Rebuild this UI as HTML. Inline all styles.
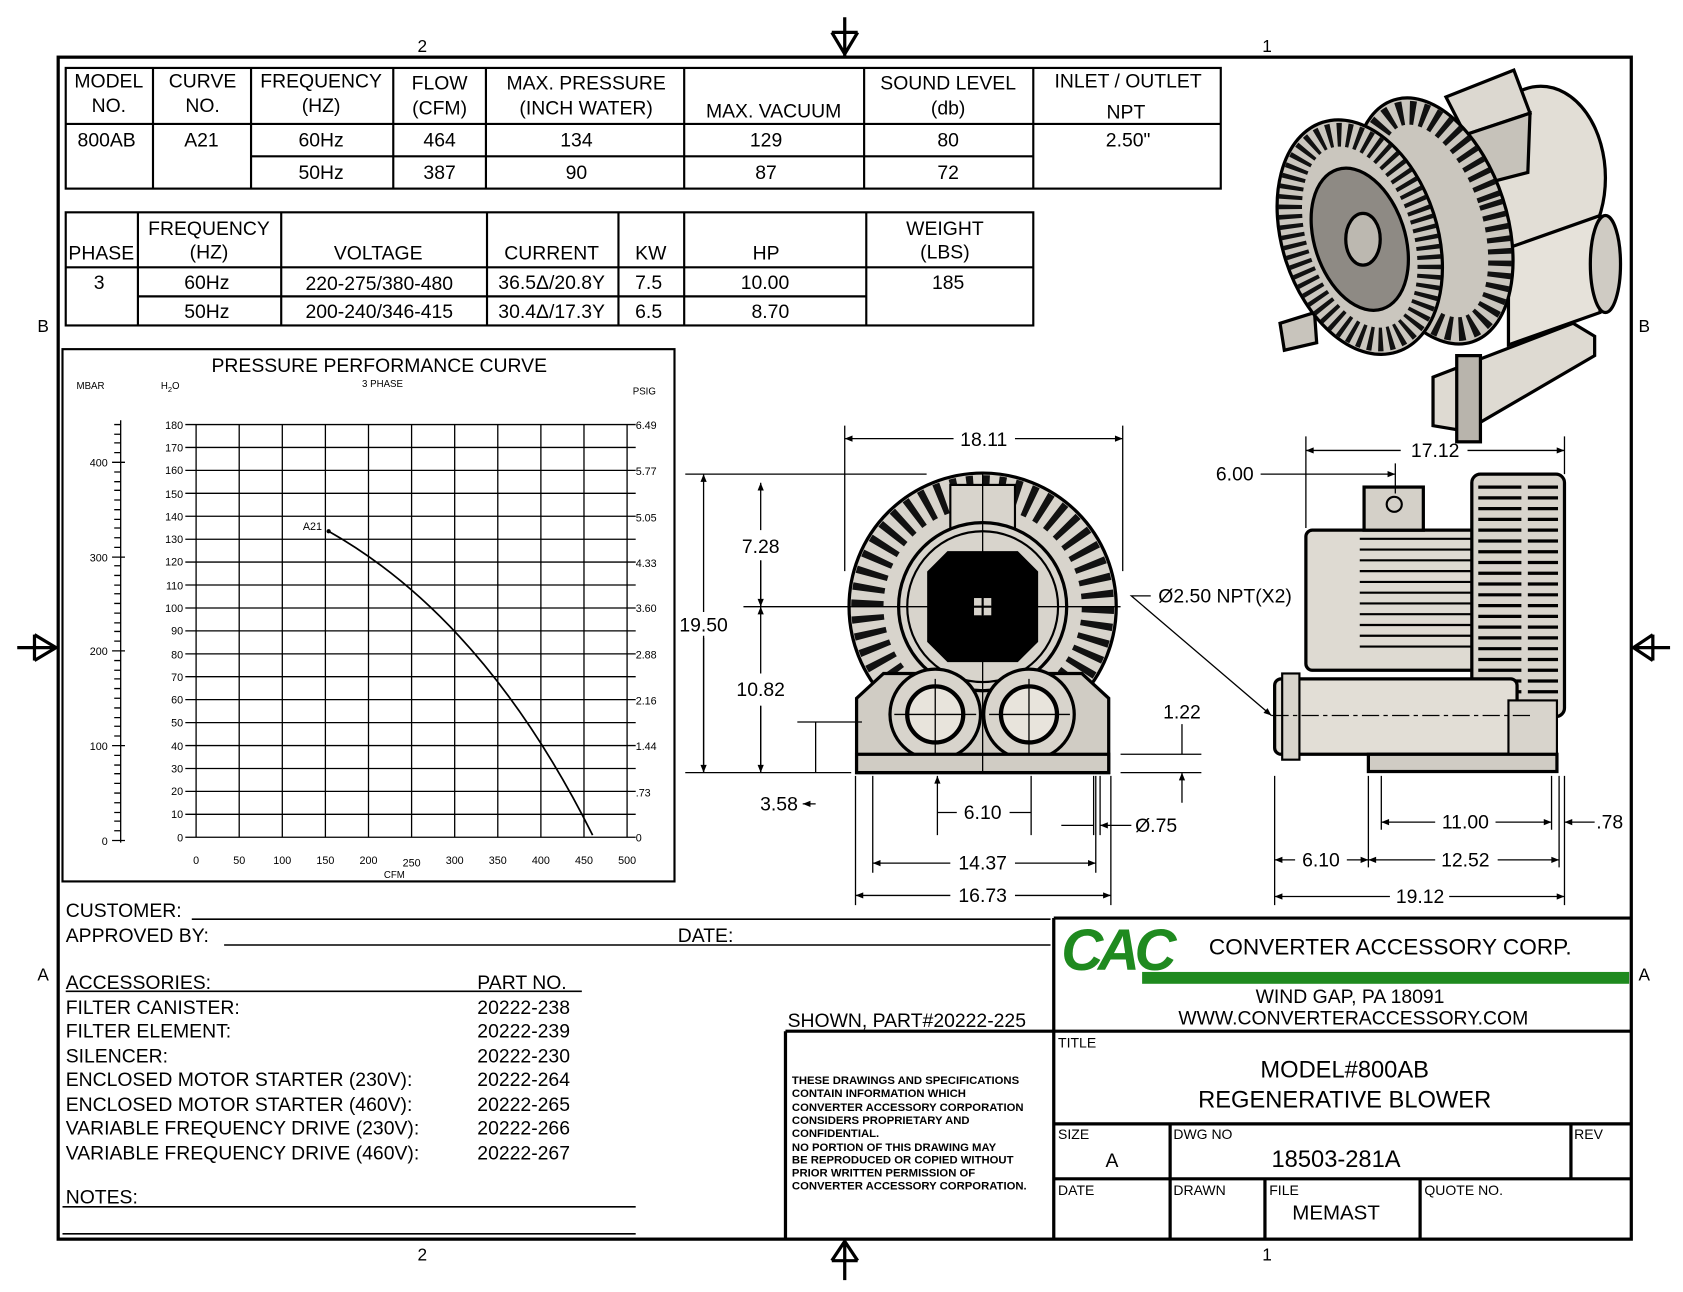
<!DOCTYPE html>
<html><head><meta charset="utf-8"><style>
html,body{margin:0;padding:0;background:#fff}
svg{display:block}
text{font-family:"Liberation Sans",Arial,sans-serif;fill:#000}
</style></head><body>
<svg width="1683" height="1292" viewBox="0 0 1562 1199" xmlns="http://www.w3.org/2000/svg">
<defs>
<marker id="ar" viewBox="0 0 10 10" refX="10" refY="5" markerWidth="10" markerHeight="6" orient="auto-start-reverse"><path d="M0,1 L10,5 L0,9 z" fill="#000"/></marker>
</defs>
<rect width="1562" height="1199" fill="#fff"/>
<rect x="54" y="53" width="1460" height="1097" fill="none" stroke="#000" stroke-width="3"/>
<g font-size="16" text-anchor="middle">
<text x="392" y="48">2</text><text x="1176" y="48">1</text>
<text x="392" y="1170">2</text><text x="1176" y="1170">1</text>
<text x="40" y="308">B</text><text x="1526" y="308">B</text>
<text x="40" y="910">A</text><text x="1526" y="910">A</text>
</g>
<g stroke="#000" stroke-width="3" fill="none">
<path d="M784,16 V52 M772,30 L784,50 L796,30 M772,30 H796"/>
<path d="M784,1188 V1152 M772,1170 L784,1152 L796,1170 M772,1170 H796"/>
<path d="M16,601 H52 M32,589 L52,601 L32,613 M32,589 V613"/>
<path d="M1550,601 H1516 M1534,589 L1516,601 L1534,613 M1534,589 V613"/>
</g>

<g stroke="#000" stroke-width="2" fill="none">
<rect x="61" y="63" width="1072" height="112"/>
<path d="M142,63V175 M233,63V175 M365,63V175 M451,63V175 M635,63V175 M802,63V175 M959,63V175 M61,115H1133 M233,145H959"/>
</g>
<g font-size="18" text-anchor="middle">
<text x="101" y="81">MODEL</text><text x="101" y="104">NO.</text>
<text x="188" y="81">CURVE</text><text x="188" y="104">NO.</text>
<text x="298" y="81">FREQUENCY</text><text x="298" y="104">(HZ)</text>
<text x="408" y="83">FLOW</text><text x="408" y="106">(CFM)</text>
<text x="544" y="83">MAX. PRESSURE</text><text x="544" y="106">(INCH WATER)</text>
<text x="718" y="109">MAX. VACUUM</text>
<text x="880" y="83">SOUND LEVEL</text><text x="880" y="106">(db)</text>
<text x="1047" y="81">INLET / OUTLET</text><text x="1045" y="110">NPT</text>
<text x="99" y="136">800AB</text><text x="187" y="136">A21</text>
<text x="298" y="136">60Hz</text><text x="408" y="136">464</text><text x="535" y="136">134</text><text x="711" y="136">129</text><text x="880" y="136">80</text><text x="1047" y="136">2.50"</text>
<text x="298" y="166">50Hz</text><text x="408" y="166">387</text><text x="535" y="166">90</text><text x="711" y="166">87</text><text x="880" y="166">72</text>
</g>

<g stroke="#000" stroke-width="2" fill="none">
<rect x="61" y="197" width="898" height="105"/>
<path d="M128,197V302 M261,197V302 M452,197V302 M574,197V302 M635,197V302 M804,197V302 M61,248H959 M128,275H804"/>
</g>
<g font-size="18" text-anchor="middle">
<text x="94" y="241">PHASE</text>
<text x="194" y="218">FREQUENCY</text><text x="194" y="240">(HZ)</text>
<text x="351" y="241">VOLTAGE</text><text x="512" y="241">CURRENT</text><text x="604" y="241">KW</text><text x="711" y="241">HP</text>
<text x="877" y="218">WEIGHT</text><text x="877" y="240">(LBS)</text>
<text x="92" y="268">3</text><text x="192" y="268">60Hz</text><text x="352" y="269">220-275/380-480</text><text x="512" y="268">36.5Δ/20.8Y</text><text x="602" y="268">7.5</text><text x="710" y="268">10.00</text><text x="880" y="268">185</text>
<text x="192" y="295">50Hz</text><text x="352" y="295">200-240/346-415</text><text x="512" y="295">30.4Δ/17.3Y</text><text x="602" y="295">6.5</text><text x="715" y="295">8.70</text>
</g>

<rect x="58" y="324" width="568" height="494" fill="none" stroke="#000" stroke-width="2"/>
<text x="352" y="345" font-size="18" text-anchor="middle">PRESSURE PERFORMANCE CURVE</text>
<text x="355" y="359" font-size="9" text-anchor="middle">3 PHASE</text>
<text x="84" y="361" font-size="9" text-anchor="middle">MBAR</text>
<text x="158" y="361" font-size="9" text-anchor="middle">H<tspan font-size="7" dy="3">2</tspan><tspan dy="-3">O</tspan></text>
<text x="598" y="366" font-size="9" text-anchor="middle">PSIG</text>
<g stroke="#000" stroke-width="1.2">
<path d="M182,394V777 M222,394V777 M262,394V777 M302,394V777 M342,394V777 M382,394V777 M422,394V777 M462,394V777 M502,394V777 M542,394V777 M582,394V777"/>
<path d="M172,777H590 M172,755.7H590 M172,734.4H590 M172,713.2H590 M172,691.9H590 M172,670.6H590 M172,649.3H590 M172,628H590 M172,606.8H590 M172,585.5H590 M172,564.2H590 M172,542.9H590 M172,521.6H590 M172,500.4H590 M172,479.1H590 M172,457.8H590 M172,436.5H590 M172,415.2H590 M172,394H590"/>
<path d="M112,390V782 M104,780H116 M104,692H116 M104,604H116 M104,517H116 M104,429H116 M106,771H112 M106,762H112 M106,754H112 M106,745H112 M106,736H112 M106,727H112 M106,718H112 M106,710H112 M106,701H112 M106,683H112 M106,674H112 M106,666H112 M106,657H112 M106,648H112 M106,639H112 M106,630H112 M106,622H112 M106,613H112 M106,595H112 M106,586H112 M106,578H112 M106,569H112 M106,560H112 M106,551H112 M106,543H112 M106,534H112 M106,525H112 M106,508H112 M106,499H112 M106,490H112 M106,482H112 M106,473H112 M106,464H112 M106,455H112 M106,447H112 M106,438H112 M106,420H112 M106,411H112 M106,403H112 M106,394H112"/>
</g>
<g font-size="10" text-anchor="end">
<text x="170" y="781">0</text><text x="170" y="759">10</text><text x="170" y="738">20</text><text x="170" y="717">30</text><text x="170" y="696">40</text><text x="170" y="674">50</text><text x="170" y="653">60</text><text x="170" y="632">70</text><text x="170" y="611">80</text><text x="170" y="589">90</text><text x="170" y="568">100</text><text x="170" y="547">110</text><text x="170" y="525">120</text><text x="170" y="504">130</text><text x="170" y="483">140</text><text x="170" y="462">150</text><text x="170" y="440">160</text><text x="170" y="419">170</text><text x="170" y="398">180</text>
<text x="100" y="784">0</text><text x="100" y="696">100</text><text x="100" y="608">200</text><text x="100" y="521">300</text><text x="100" y="433">400</text>
</g>
<g font-size="10">
<text x="590" y="398">6.49</text><text x="590" y="441">5.77</text><text x="590" y="484">5.05</text><text x="590" y="526">4.33</text><text x="590" y="568">3.60</text><text x="590" y="611">2.88</text><text x="590" y="654">2.16</text><text x="590" y="696">1.44</text><text x="590" y="739">.73</text><text x="590" y="781">0</text>
</g>
<g font-size="10" text-anchor="middle">
<text x="182" y="802">0</text><text x="222" y="802">50</text><text x="262" y="802">100</text><text x="302" y="802">150</text><text x="342" y="802">200</text><text x="382" y="804">250</text><text x="422" y="802">300</text><text x="462" y="802">350</text><text x="502" y="802">400</text><text x="542" y="802">450</text><text x="582" y="802">500</text>
<text x="366" y="815" font-size="9">CFM</text>
<text x="290" y="492">A21</text>
</g>
<circle cx="305" cy="493" r="2" fill="#000"/>
<path d="M305,493 Q450,575 550,775" fill="none" stroke="#000" stroke-width="1.6"/>

<!-- front view -->
<g stroke="#000" stroke-width="3">
<circle cx="912" cy="563" r="124" fill="#d8d4cc"/>
<circle cx="912" cy="563" r="107" fill="none" stroke="#111" stroke-width="30" stroke-dasharray="6 8"/>
<rect x="882" y="450" width="60" height="60" fill="#d8d4cc" stroke-width="2"/>
<path d="M795,648 L820,625 H1004 L1029,648 V717 H795 Z" fill="#d0ccc4"/>
<circle cx="912" cy="563" r="78" fill="#d8d4cc"/>
<circle cx="912" cy="563" r="70" fill="none" stroke-width="2"/>
<path d="M880,513 H944 L962,531 V595 L944,613 H880 L862,595 V531 Z" fill="#000"/>
<rect x="904" y="555" width="16" height="16" fill="#d8d4cc" stroke="none"/>
<path d="M912,555V571 M904,563H920" stroke="#000" stroke-width="2"/>
<circle cx="868" cy="663" r="42" fill="#d8d4cc"/>
<circle cx="868" cy="663" r="26" fill="#e8e4dc" stroke-width="4"/>
<circle cx="955" cy="663" r="42" fill="#d8d4cc"/>
<circle cx="955" cy="663" r="26" fill="#e8e4dc" stroke-width="4"/>
<rect x="795" y="700" width="234" height="17" fill="#d0ccc4"/>
</g>
<g stroke="#000" stroke-width="1.2">
<path d="M912,440V717 M790,563H1040 M868,630V700 M830,663H906 M955,630V700 M918,663H993"/>
</g>

<g stroke="#000" stroke-width="1.2" fill="none">
<path d="M784,395V530 M1042,395V530"/>
<path d="M784,407H885 M942,407H1042" marker-start="url(#ar)" marker-end="url(#ar)"/>
<path d="M636,440H860 M636,717H790 M690,563H790"/>
<path d="M653,440V568 M653,592V717" marker-start="url(#ar)"/>
<path d="M653,590V717" marker-end="url(#ar)"/>
<path d="M706,448V492 M706,520V563" marker-start="url(#ar)"/>
<path d="M706,520V563" marker-end="url(#ar)"/>
<path d="M706,563V625 M706,655V717" marker-start="url(#ar)"/>
<path d="M706,655V717" marker-end="url(#ar)"/>
<path d="M740,670H800 M757,717V670 M757,746H745" marker-end="url(#ar)"/>
<path d="M1040,700H1115 M1040,717H1115 M1097,672V700 M1097,745V717" marker-end="url(#ar)"/>
<path d="M870,720V775 M957,720V775 M870,754H888 M957,754H937" marker-start="url(#ar)"/>
<path d="M1015,720V775 M1021,720V775 M985,766H1015 M1050,766H1021" marker-end="url(#ar)"/>
<path d="M810,720V810 M1017,720V810 M794,720V840 M1031,720V840"/>
<path d="M810,801H882 M942,801H1017" marker-start="url(#ar)" marker-end="url(#ar)"/>
<path d="M794,831H882 M942,831H1031" marker-start="url(#ar)" marker-end="url(#ar)"/>
<path d="M1068,553 H1050 L1180,664" marker-end="url(#ar)"/>
</g>
<g font-size="18" text-anchor="middle">
<text x="913" y="414">18.11</text><text x="653" y="586">19.50</text><text x="706" y="513">7.28</text><text x="706" y="646">10.82</text>
<text x="723" y="752">3.58</text><text x="1097" y="667">1.22</text><text x="912" y="760">6.10</text><text x="1073" y="772">Ø.75</text>
<text x="912" y="807">14.37</text><text x="912" y="837">16.73</text><text x="1137" y="559">Ø2.50 NPT(X2)</text>
</g>

<!-- side view -->
<g stroke="#000" stroke-width="3">
<rect x="1212" y="492" width="160" height="130" rx="6" fill="#dedad2"/>
<path d="M1262,500H1368 M1262,510H1368 M1262,520H1368 M1262,530H1368 M1262,540H1368 M1262,550H1368 M1262,560H1368 M1262,570H1368 M1262,580H1368 M1262,590H1368 M1262,600H1368" stroke-width="2"/>
<rect x="1266" y="452" width="55" height="40" fill="#d4d0c8"/>
<circle cx="1294" cy="468" r="7" fill="none" stroke-width="2"/>
<rect x="1366" y="440" width="86" height="225" rx="8" fill="#d8d4cc"/>
<path d="M1372,452H1446 M1372,462H1446 M1372,472H1446 M1372,482H1446 M1372,492H1446 M1372,502H1446 M1372,512H1446 M1372,522H1446 M1372,532H1446 M1372,542H1446 M1372,552H1446 M1372,562H1446 M1372,572H1446 M1372,582H1446 M1372,592H1446 M1372,602H1446 M1372,612H1446 M1372,622H1446 M1372,632H1446 M1372,642H1446 M1372,652H1446" stroke-width="3" stroke-dasharray="40 6"/>
<rect x="1183" y="630" width="225" height="70" rx="6" fill="#e2ded6"/>
<rect x="1190" y="625" width="16" height="80" fill="#d8d4cc" stroke-width="2"/>
<rect x="1400" y="650" width="45" height="52" fill="#d8d4cc" stroke-width="2"/>
<rect x="1270" y="700" width="175" height="16" fill="#d0ccc4"/>
</g>
<path d="M1180,664H1420" stroke="#000" stroke-width="1.2" stroke-dasharray="16 4 4 4"/>
<g stroke="#000" stroke-width="1.2" fill="none">
<path d="M1212,405V490 M1452,405V440 M1295,430V458"/>
<path d="M1212,418H1300 M1362,418H1452" marker-start="url(#ar)" marker-end="url(#ar)"/>
<path d="M1170,440H1212 M1212,440H1295" marker-end="url(#ar)"/>
<path d="M1183,720V840 M1270,720V805 M1282,720V770 M1440,720V770 M1447,720V805 M1452,720V840"/>
<path d="M1282,763H1332 M1388,763H1440" marker-start="url(#ar)" marker-end="url(#ar)"/>
<path d="M1480,763H1452" marker-end="url(#ar)"/>
<path d="M1183,798H1202 M1250,798H1270" marker-start="url(#ar)" marker-end="url(#ar)"/>
<path d="M1270,798H1332 M1390,798H1447" marker-start="url(#ar)" marker-end="url(#ar)"/>
<path d="M1183,832H1290 M1345,832H1452" marker-start="url(#ar)" marker-end="url(#ar)"/>
</g>
<g font-size="18" text-anchor="middle">
<text x="1332" y="424">17.12</text><text x="1146" y="446">6.00</text><text x="1360" y="769">11.00</text><text x="1494" y="769">.78</text>
<text x="1226" y="804">6.10</text><text x="1360" y="804">12.52</text><text x="1318" y="838">19.12</text>
</g>

<!-- iso view -->
<g stroke="#000" stroke-width="3">
<!-- base -->
<path d="M1330,350 L1460,300 L1480,312 L1480,330 L1360,400 L1330,395 Z" fill="#dedad2"/>
<rect x="1352" y="330" width="22" height="80" fill="#b8b4ac"/>
<path d="M1188,300 L1220,290 L1222,318 L1192,325 Z" fill="#c8c4bc"/>
<!-- motor body -->
<ellipse cx="1430" cy="165" rx="60" ry="85" fill="#e2ded6"/>
<path d="M1360,95 L1430,82 L1430,250 L1360,270 Z" fill="#e2ded6" stroke="none"/>
<!-- cylinder -->
<path d="M1400,230 L1485,200 L1485,290 L1400,320 Z" fill="#e6e2da"/>
<ellipse cx="1490" cy="245" rx="14" ry="45" fill="#cfcbc3"/>
<!-- terminal box -->
<path d="M1342,90 L1405,65 L1420,105 L1360,125 Z" fill="#dcd8d0"/>
<path d="M1348,110 L1360,125 L1420,105 L1418,160 L1360,175 Z" fill="#c6c2ba"/>
<!-- fin rings -->
<ellipse cx="1330" cy="205" rx="68" ry="118" fill="#cac6be" transform="rotate(-18 1330 205)"/>
<ellipse cx="1330" cy="205" rx="56" ry="104" fill="none" stroke="#111" stroke-width="22" stroke-dasharray="5 6" transform="rotate(-18 1330 205)"/>
<ellipse cx="1262" cy="220" rx="72" ry="112" fill="#cac6be" transform="rotate(-18 1262 220)"/>
<ellipse cx="1262" cy="220" rx="60" ry="98" fill="none" stroke="#111" stroke-width="22" stroke-dasharray="4 5" transform="rotate(-18 1262 220)"/>
<ellipse cx="1262" cy="222" rx="42" ry="68" fill="#8e8a84" transform="rotate(-18 1262 222)"/>
<ellipse cx="1265" cy="222" rx="16" ry="24" fill="#bcb8b0"/>
</g>

<!-- bottom-left -->
<g font-size="18">
<text x="61" y="851">CUSTOMER:</text><text x="61" y="874">APPROVED BY:</text><text x="629" y="874">DATE:</text>
<text x="61" y="918">ACCESSORIES:</text><text x="443" y="918">PART NO.</text>
<text x="61" y="941">FILTER CANISTER:</text><text x="443" y="941">20222-238</text>
<text x="61" y="963">FILTER ELEMENT:</text><text x="443" y="963">20222-239</text>
<text x="61" y="986">SILENCER:</text><text x="443" y="986">20222-230</text>
<text x="61" y="1008">ENCLOSED MOTOR STARTER (230V):</text><text x="443" y="1008">20222-264</text>
<text x="61" y="1031">ENCLOSED MOTOR STARTER (460V):</text><text x="443" y="1031">20222-265</text>
<text x="61" y="1053">VARIABLE FREQUENCY DRIVE (230V):</text><text x="443" y="1053">20222-266</text>
<text x="61" y="1076">VARIABLE FREQUENCY DRIVE (460V):</text><text x="443" y="1076">20222-267</text>
<text x="61" y="1117">NOTES:</text>
<text x="731" y="953">SHOWN, PART#20222-225</text>
</g>
<g stroke="#000" stroke-width="1.5">
<path d="M178,853H975 M208,877H975 M61,920H540 M58,1120H590 M58,1145H590"/>
</g>

<g stroke="#000" stroke-width="3" fill="none">
<path d="M978,852V1150 M978,852H1514 M729,957H1514 M729,957V1150 M978,1043H1514 M1086,1043V1150 M1458,1043V1094 M978,1094H1514 M1174,1094V1150 M1318,1094V1150"/>
</g>
<rect x="1060" y="902" width="452" height="11" fill="#1f8a1f"/>
<text x="985" y="900" font-size="54" font-weight="bold" font-style="italic" style="fill:#1f8a1f" letter-spacing="-5">CAC</text>
<text x="1122" y="886" font-size="21">CONVERTER ACCESSORY CORP.</text>
<text x="1253" y="931" font-size="18" text-anchor="middle">WIND GAP, PA 18091</text>
<text x="1256" y="951" font-size="18" text-anchor="middle">WWW.CONVERTERACCESSORY.COM</text>
<g font-size="13"><text x="982" y="972">TITLE</text><text x="982" y="1057">SIZE</text><text x="1089" y="1057">DWG NO</text><text x="1461" y="1057">REV</text>
<text x="982" y="1109">DATE</text><text x="1089" y="1109">DRAWN</text><text x="1178" y="1109">FILE</text><text x="1322" y="1109">QUOTE NO.</text></g>
<g font-size="22" text-anchor="middle">
<text x="1248" y="1000">MODEL#800AB</text><text x="1248" y="1028">REGENERATIVE BLOWER</text>
<text x="1032" y="1083" font-size="18">A</text><text x="1240" y="1083">18503-281A</text>
<text x="1240" y="1132" font-size="19">MEMAST</text>
</g>
<g font-size="10.5" font-weight="bold">
<text x="735" y="1006">THESE DRAWINGS AND SPECIFICATIONS</text>
<text x="735" y="1018">CONTAIN INFORMATION WHICH</text>
<text x="735" y="1031">CONVERTER ACCESSORY CORPORATION</text>
<text x="735" y="1043">CONSIDERS PROPRIETARY AND</text>
<text x="735" y="1055">CONFIDENTIAL.</text>
<text x="735" y="1068">NO PORTION OF THIS DRAWING MAY</text>
<text x="735" y="1080">BE REPRODUCED OR COPIED WITHOUT</text>
<text x="735" y="1092">PRIOR WRITTEN PERMISSION OF</text>
<text x="735" y="1104">CONVERTER ACCESSORY CORPORATION.</text>
</g>
</svg>
</body></html>
